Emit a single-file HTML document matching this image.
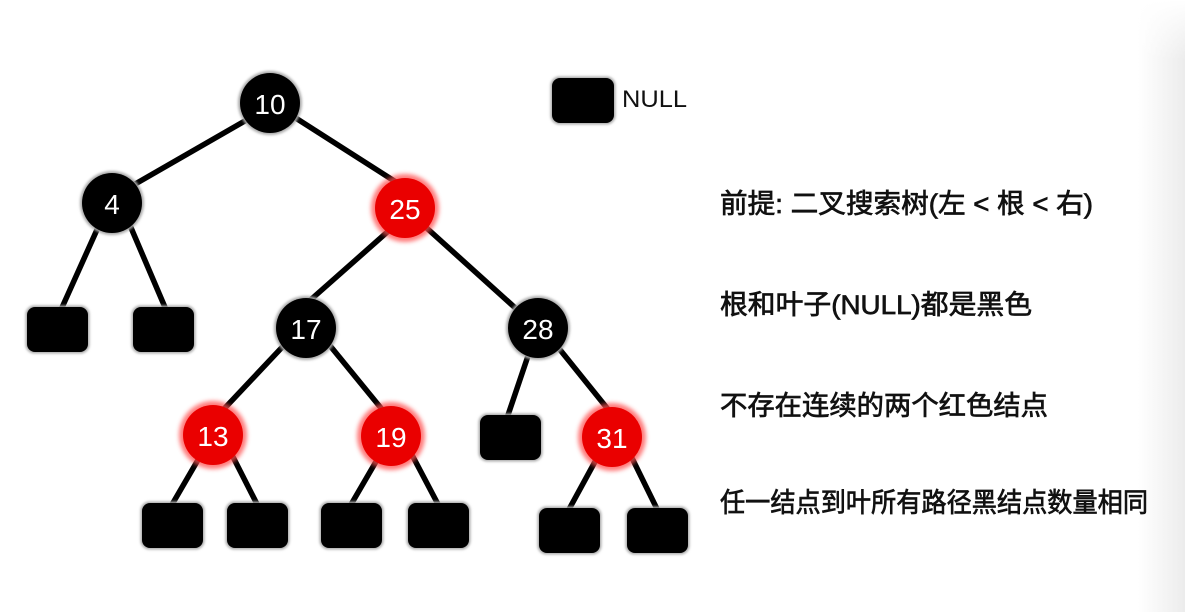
<!DOCTYPE html>
<html>
<head>
<meta charset="utf-8">
<style>
html,body{margin:0;padding:0;background:#fff;}
body{width:1185px;height:612px;overflow:hidden;position:relative;}
#shade{position:absolute;left:1138px;top:0;width:47px;height:612px;
 background:linear-gradient(to right,rgba(236,236,236,0),#ececec 100%);}
#shadeTop{position:absolute;left:1138px;top:0;width:47px;height:60px;
 background:linear-gradient(to bottom,#fff,rgba(255,255,255,0));}
svg{position:absolute;left:0;top:0;}
</style>
</head>
<body>
<div id="shade"></div>
<div id="shadeTop"></div>
<svg width="1185" height="612" viewBox="0 0 1185 612" xmlns="http://www.w3.org/2000/svg">
<defs>
  <filter id="b1" x="-30%" y="-30%" width="160%" height="160%"><feGaussianBlur stdDeviation="1.2"/></filter>
  <filter id="b2" x="-30%" y="-30%" width="160%" height="160%"><feGaussianBlur stdDeviation="2"/></filter>
</defs>

<!-- edges -->
<g stroke="#000" stroke-width="5.5" fill="none">
  <line x1="250" y1="118" x2="130" y2="187"/>
  <line x1="291" y1="115" x2="399" y2="184"/>
  <line x1="100" y1="223" x2="60" y2="312"/>
  <line x1="129" y1="223" x2="167" y2="312"/>
  <line x1="393" y1="227" x2="307" y2="303"/>
  <line x1="420" y1="222" x2="522" y2="314"/>
  <line x1="287" y1="342" x2="223" y2="410"/>
  <line x1="327" y1="342" x2="385" y2="413"/>
  <line x1="202" y1="453" x2="170" y2="508"/>
  <line x1="231" y1="453" x2="259" y2="508"/>
  <line x1="381" y1="453" x2="349" y2="508"/>
  <line x1="411" y1="453" x2="440" y2="508"/>
  <line x1="530" y1="350" x2="506" y2="421"/>
  <line x1="557" y1="346" x2="611" y2="413"/>
  <line x1="597" y1="458" x2="567" y2="513"/>
  <line x1="631" y1="456" x2="659" y2="513"/>
</g>

<!-- leaves (NULL) -->
<g>
  <g fill="#aaa" filter="url(#b1)">
    <rect x="550.5" y="76.5" width="65" height="48" rx="9"/>
    <rect x="25.5" y="305.5" width="64" height="48" rx="9"/>
    <rect x="131.5" y="305.5" width="64" height="48" rx="9"/>
    <rect x="478.5" y="413.5" width="64" height="48" rx="9"/>
    <rect x="140.5" y="501.5" width="64" height="48" rx="9"/>
    <rect x="225.5" y="501.5" width="64" height="48" rx="9"/>
    <rect x="319.5" y="501.5" width="64" height="48" rx="9"/>
    <rect x="406.5" y="501.5" width="64" height="48" rx="9"/>
    <rect x="537.5" y="506.5" width="64" height="48" rx="9"/>
    <rect x="625.5" y="506.5" width="64" height="48" rx="9"/>
  </g>
  <g fill="#000">
    <rect x="552" y="78" width="62" height="45" rx="8"/>
    <rect x="27" y="307" width="61" height="45" rx="8"/>
    <rect x="133" y="307" width="61" height="45" rx="8"/>
    <rect x="480" y="415" width="61" height="45" rx="8"/>
    <rect x="142" y="503" width="61" height="45" rx="8"/>
    <rect x="227" y="503" width="61" height="45" rx="8"/>
    <rect x="321" y="503" width="61" height="45" rx="8"/>
    <rect x="408" y="503" width="61" height="45" rx="8"/>
    <rect x="539" y="508" width="61" height="45" rx="8"/>
    <rect x="627" y="508" width="61" height="45" rx="8"/>
  </g>
</g>

<!-- black nodes -->
<g>
  <g fill="#aaa" filter="url(#b1)">
    <circle cx="270" cy="103" r="32"/>
    <circle cx="112" cy="203" r="32"/>
    <circle cx="306" cy="328" r="32"/>
    <circle cx="538" cy="328" r="32"/>
  </g>
  <g fill="#000">
    <circle cx="270" cy="103" r="30"/>
    <circle cx="112" cy="203" r="30"/>
    <circle cx="306" cy="328" r="30"/>
    <circle cx="538" cy="328" r="30"/>
  </g>
</g>

<!-- red nodes -->
<g>
  <g fill="#ff5050" opacity="0.75" filter="url(#b2)">
    <circle cx="405" cy="208" r="34"/>
    <circle cx="213" cy="435" r="34"/>
    <circle cx="391" cy="436" r="34"/>
    <circle cx="612" cy="437" r="34"/>
  </g>
  <g fill="#ea0000">
    <circle cx="405" cy="208" r="30"/>
    <circle cx="213" cy="435" r="30"/>
    <circle cx="391" cy="436" r="30"/>
    <circle cx="612" cy="437" r="30"/>
  </g>
</g>

<!-- node labels -->
<g fill="#fff" font-family="Liberation Sans, DejaVu Sans, sans-serif" font-size="28" text-anchor="middle">
  <text x="270" y="114">10</text>
  <text x="112" y="214">4</text>
  <text x="405" y="219">25</text>
  <text x="306" y="339">17</text>
  <text x="538" y="339">28</text>
  <text x="213" y="446">13</text>
  <text x="391" y="447">19</text>
  <text x="612" y="448">31</text>
</g>

<!-- legend -->
<text x="622" y="107" font-family="Liberation Sans, sans-serif" font-size="24" fill="#111" textLength="65" lengthAdjust="spacingAndGlyphs">NULL</text>

<!-- rules -->
<g fill="#111" font-family="Liberation Sans, 'Noto Sans CJK SC', 'WenQuanYi Zen Hei', sans-serif" font-size="27" stroke="#111" stroke-width="0.7">
  <text x="720" y="213" textLength="373" lengthAdjust="spacingAndGlyphs">前提: 二叉搜索树(左 &lt; 根 &lt; 右)</text>
  <text x="720" y="314" textLength="312" lengthAdjust="spacingAndGlyphs">根和叶子(NULL)都是黑色</text>
  <text x="720" y="415" textLength="328" lengthAdjust="spacingAndGlyphs">不存在连续的两个红色结点</text>
  <text x="720" y="512" textLength="428" lengthAdjust="spacingAndGlyphs">任一结点到叶所有路径黑结点数量相同</text>
</g>
</svg>
</body>
</html>
